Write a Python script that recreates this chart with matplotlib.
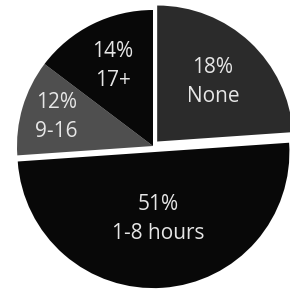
import numpy as np
import matplotlib
matplotlib.use("Agg")
import matplotlib.pyplot as plt

# slices, clockwise from 12 o'clock
categories = ["None", "1-8 hours", "9-16", "17+"]
pct_labels = [18, 51, 12, 14]          # printed percentages
drawn_share = [23.9, 50.0, 11.4, 14.7]  # wedge sizes as drawn in the picture
colors = ["#2b2b2b", "#080808", "#4f4f4f", "#080808"]
explode = [0.045, 0.045, 0, 0]
label_dist = [0.60, 0.49, 0.74, 0.66]

fig = plt.figure(figsize=(2.9, 2.89), dpi=100)
ax = fig.add_axes([0, 0, 1, 1])

wedges, _ = ax.pie(drawn_share, colors=colors, explode=explode,
                   startangle=90, counterclock=False, radius=1.0,
                   wedgeprops=dict(linewidth=0))

for w, cat, pct, d in zip(wedges, categories, pct_labels, label_dist):
    mid = np.deg2rad((w.theta1 + w.theta2) / 2)
    cx, cy = w.center
    ax.text(cx + d * np.cos(mid), cy + d * np.sin(mid), f"{pct}%\n{cat}",
            ha="center", va="center", multialignment="center",
            color="#e6e6e6", fontsize=15, family="Open Sans", linespacing=1.5)

# center of the pie at about (153, 145) px, radius 136 px
r = 136
ax.set_xlim(-153 / r, (290 - 153) / r)
ax.set_ylim(-(289 - 146) / r, 146 / r)
ax.set_aspect("equal")
ax.axis("off")

plt.savefig("out.png", dpi=100, facecolor="white")
